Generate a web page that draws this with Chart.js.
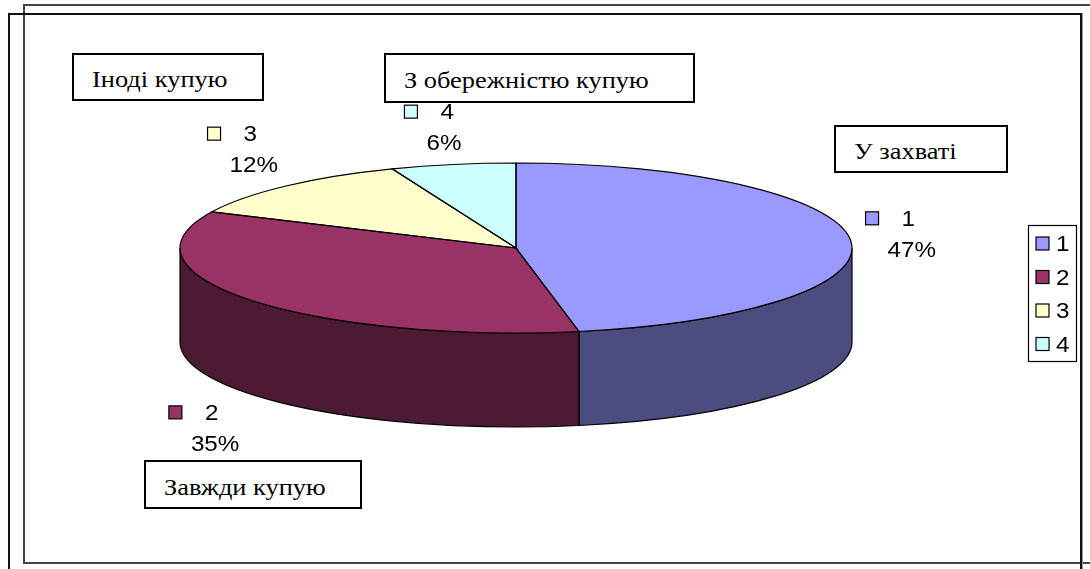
<!DOCTYPE html>
<html>
<head>
<meta charset="utf-8">
<script src="https://cdn.jsdelivr.net/npm/chart.js@4/dist/chart.umd.min.js"></script>
<style>
html,body{margin:0;padding:0;background:#fff;}
#wrap{position:relative;width:1090px;height:569px;overflow:hidden;background:#fff;}
#c{position:absolute;left:0;top:0;}
.frame{position:absolute;box-sizing:border-box;}
.note{position:absolute;box-sizing:border-box;border:2px solid #000;background:#fff;
  font-family:"Liberation Serif","DejaVu Serif","Noto Serif","Times New Roman",Times,serif;font-size:24px;color:#000;
  display:flex;align-items:center;padding-top:5px;white-space:nowrap;}
.note span{display:inline-block;transform:scaleX(1.1);transform-origin:left center;}
</style>
</head>
<body>
<div id="wrap">
  <div class="frame" style="left:23px;top:4px;width:1100px;height:560px;border:2px solid #444;"></div>
  <div class="frame" style="left:8px;top:13px;width:1074px;height:600px;border:2px solid #111;box-shadow:1px 0 0 #999;"></div>
  <canvas id="c" width="1090" height="569"></canvas>
</div>
<script>
// ---- data ----
const categories = ['1', '2', '3', '4'];
const shares = [47, 35, 12, 6];
const topColors = ['#9999FF', '#993366', '#FFFFCC', '#CCFFFF'];
const sideColors = ['#4C4C80', '#4C1A33', '#80806A', '#6A8080'];
const noteTexts = ['Іноді купую', 'З обережністю купую', 'У захваті', 'Завжди купую'];

// ---- layout (not data) ----
const TILT = 0.253;    // vertical squash of the pie top
const DEPTH = 94;      // thickness of the 3D pie
const PIE_CY = 248;    // vertical centre of the pie top
const SANS = '"Liberation Sans", Arial, sans-serif';
const STRETCH = 1.1;
// label placement around the ellipse (relative to the slice's mid direction)
function labelOffsetX(c) { return 415 * c - 30 * c * c * c; }
function labelOffsetY(s) { return 151 * s - 29 * s * s * s; }

const noteBoxes = [
  {l: 72, t: 53, w: 192, h: 48},
  {l: 384, t: 53, w: 311, h: 50},
  {l: 834, t: 125, w: 174, h: 48},
  {l: 144, t: 460, w: 218, h: 49}
];
const wrap = document.getElementById('wrap');
noteTexts.forEach((txt, i) => {
  const b = noteBoxes[i];
  const d = document.createElement('div');
  d.className = 'note';
  d.style.left = b.l + 'px'; d.style.top = b.t + 'px';
  d.style.width = b.w + 'px'; d.style.height = b.h + 'px';
  d.style.paddingLeft = '18px';
  const s = document.createElement('span');
  s.textContent = txt;
  d.appendChild(s);
  wrap.appendChild(d);
});

function geom(chart) {
  const el0 = chart.getDatasetMeta(0).data[0];
  const RX = (chart.chartArea.right - chart.chartArea.left) / 2;
  return {x0: el0.x, y0: el0.y, r0: el0.outerRadius, CX: el0.x, CY: PIE_CY, RX: RX, RY: RX * TILT};
}

function stretchedText(ctx, txt, x, y) {
  ctx.save();
  ctx.translate(x, y);
  ctx.scale(STRETCH, 1);
  ctx.fillText(txt, 0, 0);
  ctx.restore();
}

const pie3d = {
  id: 'pie3d',
  beforeDatasetsDraw(chart) {
    const ctx = chart.ctx;
    const g = geom(chart);
    const meta = chart.getDatasetMeta(0);
    // visible side walls (front half: canvas angles 0..PI)
    meta.data.forEach((el, i) => {
      const a0 = Math.max(el.startAngle, 0);
      const a1 = Math.min(el.endAngle, Math.PI);
      if (a1 <= a0) return;
      ctx.save();
      ctx.beginPath();
      ctx.ellipse(g.CX, g.CY, g.RX, g.RY, 0, a0, a1, false);
      ctx.ellipse(g.CX, g.CY + DEPTH, g.RX, g.RY, 0, a1, a0, true);
      ctx.closePath();
      ctx.fillStyle = sideColors[i];
      ctx.fill();
      ctx.lineWidth = 1.2;
      ctx.strokeStyle = '#000';
      ctx.stroke();
      ctx.restore();
    });
    // tilt the library's own slices into an ellipse
    ctx.save();
    ctx.translate(g.CX, g.CY);
    ctx.scale(g.RX / g.r0, g.RY / g.r0);
    ctx.translate(-g.x0, -g.y0);
  },
  afterDatasetsDraw(chart) {
    const ctx = chart.ctx;
    ctx.restore();
    const g = geom(chart);
    const meta = chart.getDatasetMeta(0);
    const ds = chart.data.datasets[0];
    const total = ds.data.reduce((a, b) => a + b, 0);
    // slice outlines on the top face
    meta.data.forEach((el) => {
      ctx.save();
      ctx.beginPath();
      ctx.moveTo(g.CX, g.CY);
      ctx.ellipse(g.CX, g.CY, g.RX, g.RY, 0, el.startAngle, el.endAngle, false);
      ctx.closePath();
      ctx.lineWidth = 1.2;
      ctx.strokeStyle = '#000';
      ctx.stroke();
      ctx.restore();
    });
    // data labels
    ctx.save();
    ctx.font = '22px ' + SANS;
    ctx.fillStyle = '#000';
    ctx.textBaseline = 'middle';
    meta.data.forEach((el, i) => {
      const mid = (el.startAngle + el.endAngle) / 2;
      const c = Math.cos(mid), s = Math.sin(mid);
      const bx = g.CX + labelOffsetX(c);
      const by = g.CY + labelOffsetY(s) + (s > 0 ? DEPTH : 0);
      ctx.fillStyle = ds.backgroundColor[i];
      ctx.fillRect(bx - 34, by - 22, 13, 13);
      ctx.lineWidth = 1.2;
      ctx.strokeStyle = '#000';
      ctx.strokeRect(bx - 34, by - 22, 13, 13);
      ctx.fillStyle = '#000';
      stretchedText(ctx, chart.data.labels[i], bx + 2, by - 14);
      const pct = Math.round(ds.data[i] / total * 100) + '%';
      stretchedText(ctx, pct, bx - 12, by + 17);
    });
    ctx.restore();
  },
  afterDraw(chart) {
    // legend box
    const ctx = chart.ctx;
    const ds = chart.data.datasets[0];
    const n = chart.data.labels.length;
    const L = 1028, T = 225, W = 48, STEP = 33.5;
    ctx.save();
    ctx.lineWidth = 1.2;
    ctx.strokeStyle = '#000';
    ctx.strokeRect(L + 0.5, T + 0.5, W, STEP * n + 2);
    ctx.font = '22px ' + SANS;
    ctx.textBaseline = 'middle';
    chart.data.labels.forEach((lab, i) => {
      const cy = T + 19 + i * STEP;
      ctx.fillStyle = ds.backgroundColor[i];
      ctx.fillRect(L + 8, cy - 7, 13, 13);
      ctx.strokeRect(L + 8, cy - 7, 13, 13);
      ctx.fillStyle = '#000';
      stretchedText(ctx, lab, L + 28, cy + 1);
    });
    ctx.restore();
  }
};

new Chart(document.getElementById('c'), {
  type: 'pie',
  data: {
    labels: categories,
    datasets: [{
      data: shares,
      backgroundColor: topColors,
      borderWidth: 0
    }]
  },
  options: {
    responsive: false,
    animation: false,
    events: [],
    rotation: 0,
    layout: {padding: {left: 180, right: 238, top: 0, bottom: 0}},
    plugins: {legend: {display: false}, tooltip: {enabled: false}}
  },
  plugins: [pie3d]
});
</script>
</body>
</html>
